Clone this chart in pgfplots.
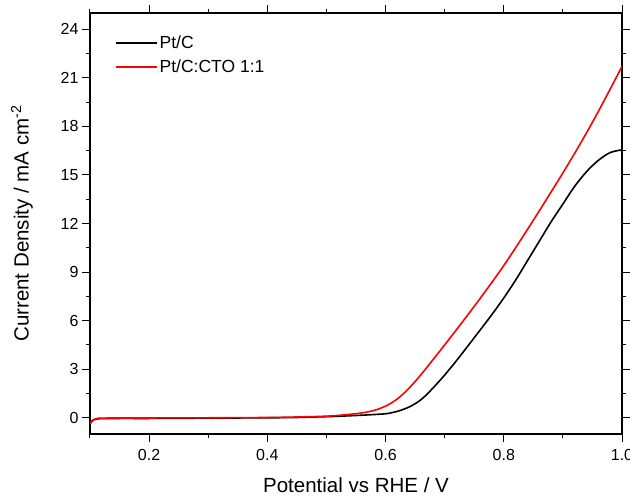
\documentclass[border=0pt]{standalone}
\usepackage{pgfplots}
\pgfplotsset{compat=1.18}
\usepackage{fontspec}
\setmainfont{Liberation Sans}
\begin{document}
\begin{tikzpicture}
\begin{axis}[
  scale only axis,
  width=532pt, height=421pt,
  xmin=0.1, xmax=1.0, ymin=-1, ymax=25,
  xtick={0.2,0.4,0.6,0.8,1.0},
  minor xtick={0.1,0.3,0.5,0.7,0.9},
  ytick={0,3,...,24},
  minor ytick={-1.5,1.5,4.5,7.5,10.5,13.5,16.5,19.5,22.5},
  xticklabels={0.2,0.4,0.6,0.8,1.0},
  yticklabel style={/pgf/number format/fixed},
  /pgf/number format/assume math mode=true,
  tick align=outside,
  major tick length=8pt, minor tick length=4pt,
  every tick/.style={black, line width=1pt},
  axis line style={line width=1.2pt},
  tick label style={font=\fontsize{16}{19}\selectfont},
  label style={font=\fontsize{20.5}{24}\selectfont},
  xlabel={Potential vs RHE / V},
  ylabel={Current Density / mA cm\textsuperscript{-2}},
  xticklabel style={yshift=-4pt},
  xlabel style={yshift=-9.5pt},
  ylabel style={yshift=21pt},
  legend style={draw=none, fill=none, at={(0.041,0.955)}, anchor=north west,
    font=\fontsize{17.5}{21}\selectfont, row sep=5.5pt},
  legend cell align=left,
  legend image code/.code={\draw[line width=1.7pt,#1] (0pt,0pt) -- (41pt,0pt);},
]
\addplot[black, line width=1.6pt, smooth] coordinates {
(0.100,-0.40) (0.103,-0.22) (0.107,-0.12) (0.112,-0.07) (0.12,-0.05)
(0.15,-0.04) (0.2,-0.04) (0.25,-0.03) (0.3,-0.02) (0.35,-0.01) (0.4,0.00)
(0.45,0.02) (0.5,0.07) (0.53,0.11) (0.56,0.16) (0.58,0.2) (0.60,0.25)
(0.61,0.31) (0.62,0.40) (0.63,0.52) (0.64,0.67) (0.65,0.87) (0.66,1.12)
(0.67,1.45) (0.68,1.83) (0.69,2.23) (0.70,2.64) (0.72,3.53) (0.74,4.47)
(0.76,5.42) (0.78,6.38) (0.80,7.4) (0.82,8.5) (0.84,9.7) (0.86,10.9)
(0.88,12.1) (0.90,13.2) (0.92,14.3) (0.94,15.2) (0.96,15.9) (0.98,16.38) (1.00,16.55)
};
\addlegendentry{Pt/C}
\addplot[red, line width=1.6pt, smooth] coordinates {
(0.100,-0.38) (0.103,-0.2) (0.107,-0.1) (0.112,-0.04) (0.12,-0.02)
(0.15,-0.01) (0.2,-0.01) (0.3,0.0) (0.4,0.02) (0.45,0.05) (0.5,0.1)
(0.53,0.18) (0.56,0.3) (0.58,0.45) (0.59,0.57) (0.60,0.72) (0.61,0.92)
(0.62,1.17) (0.63,1.48) (0.64,1.84) (0.65,2.24) (0.66,2.67) (0.67,3.12)
(0.68,3.58) (0.70,4.5) (0.725,5.68) (0.75,6.88) (0.775,8.12) (0.80,9.4)
(0.825,10.78) (0.85,12.2) (0.875,13.65) (0.90,15.12) (0.925,16.65) (0.95,18.25)
(0.975,19.95) (1.00,21.7)
};
\addlegendentry{Pt/C:CTO 1:1}
\end{axis}
\pgfresetboundingbox
\path[use as bounding box] ([xshift=-90pt,yshift=-63pt]current axis.south west) rectangle ([xshift=8pt,yshift=13pt]current axis.north east);
\end{tikzpicture}
\end{document}
